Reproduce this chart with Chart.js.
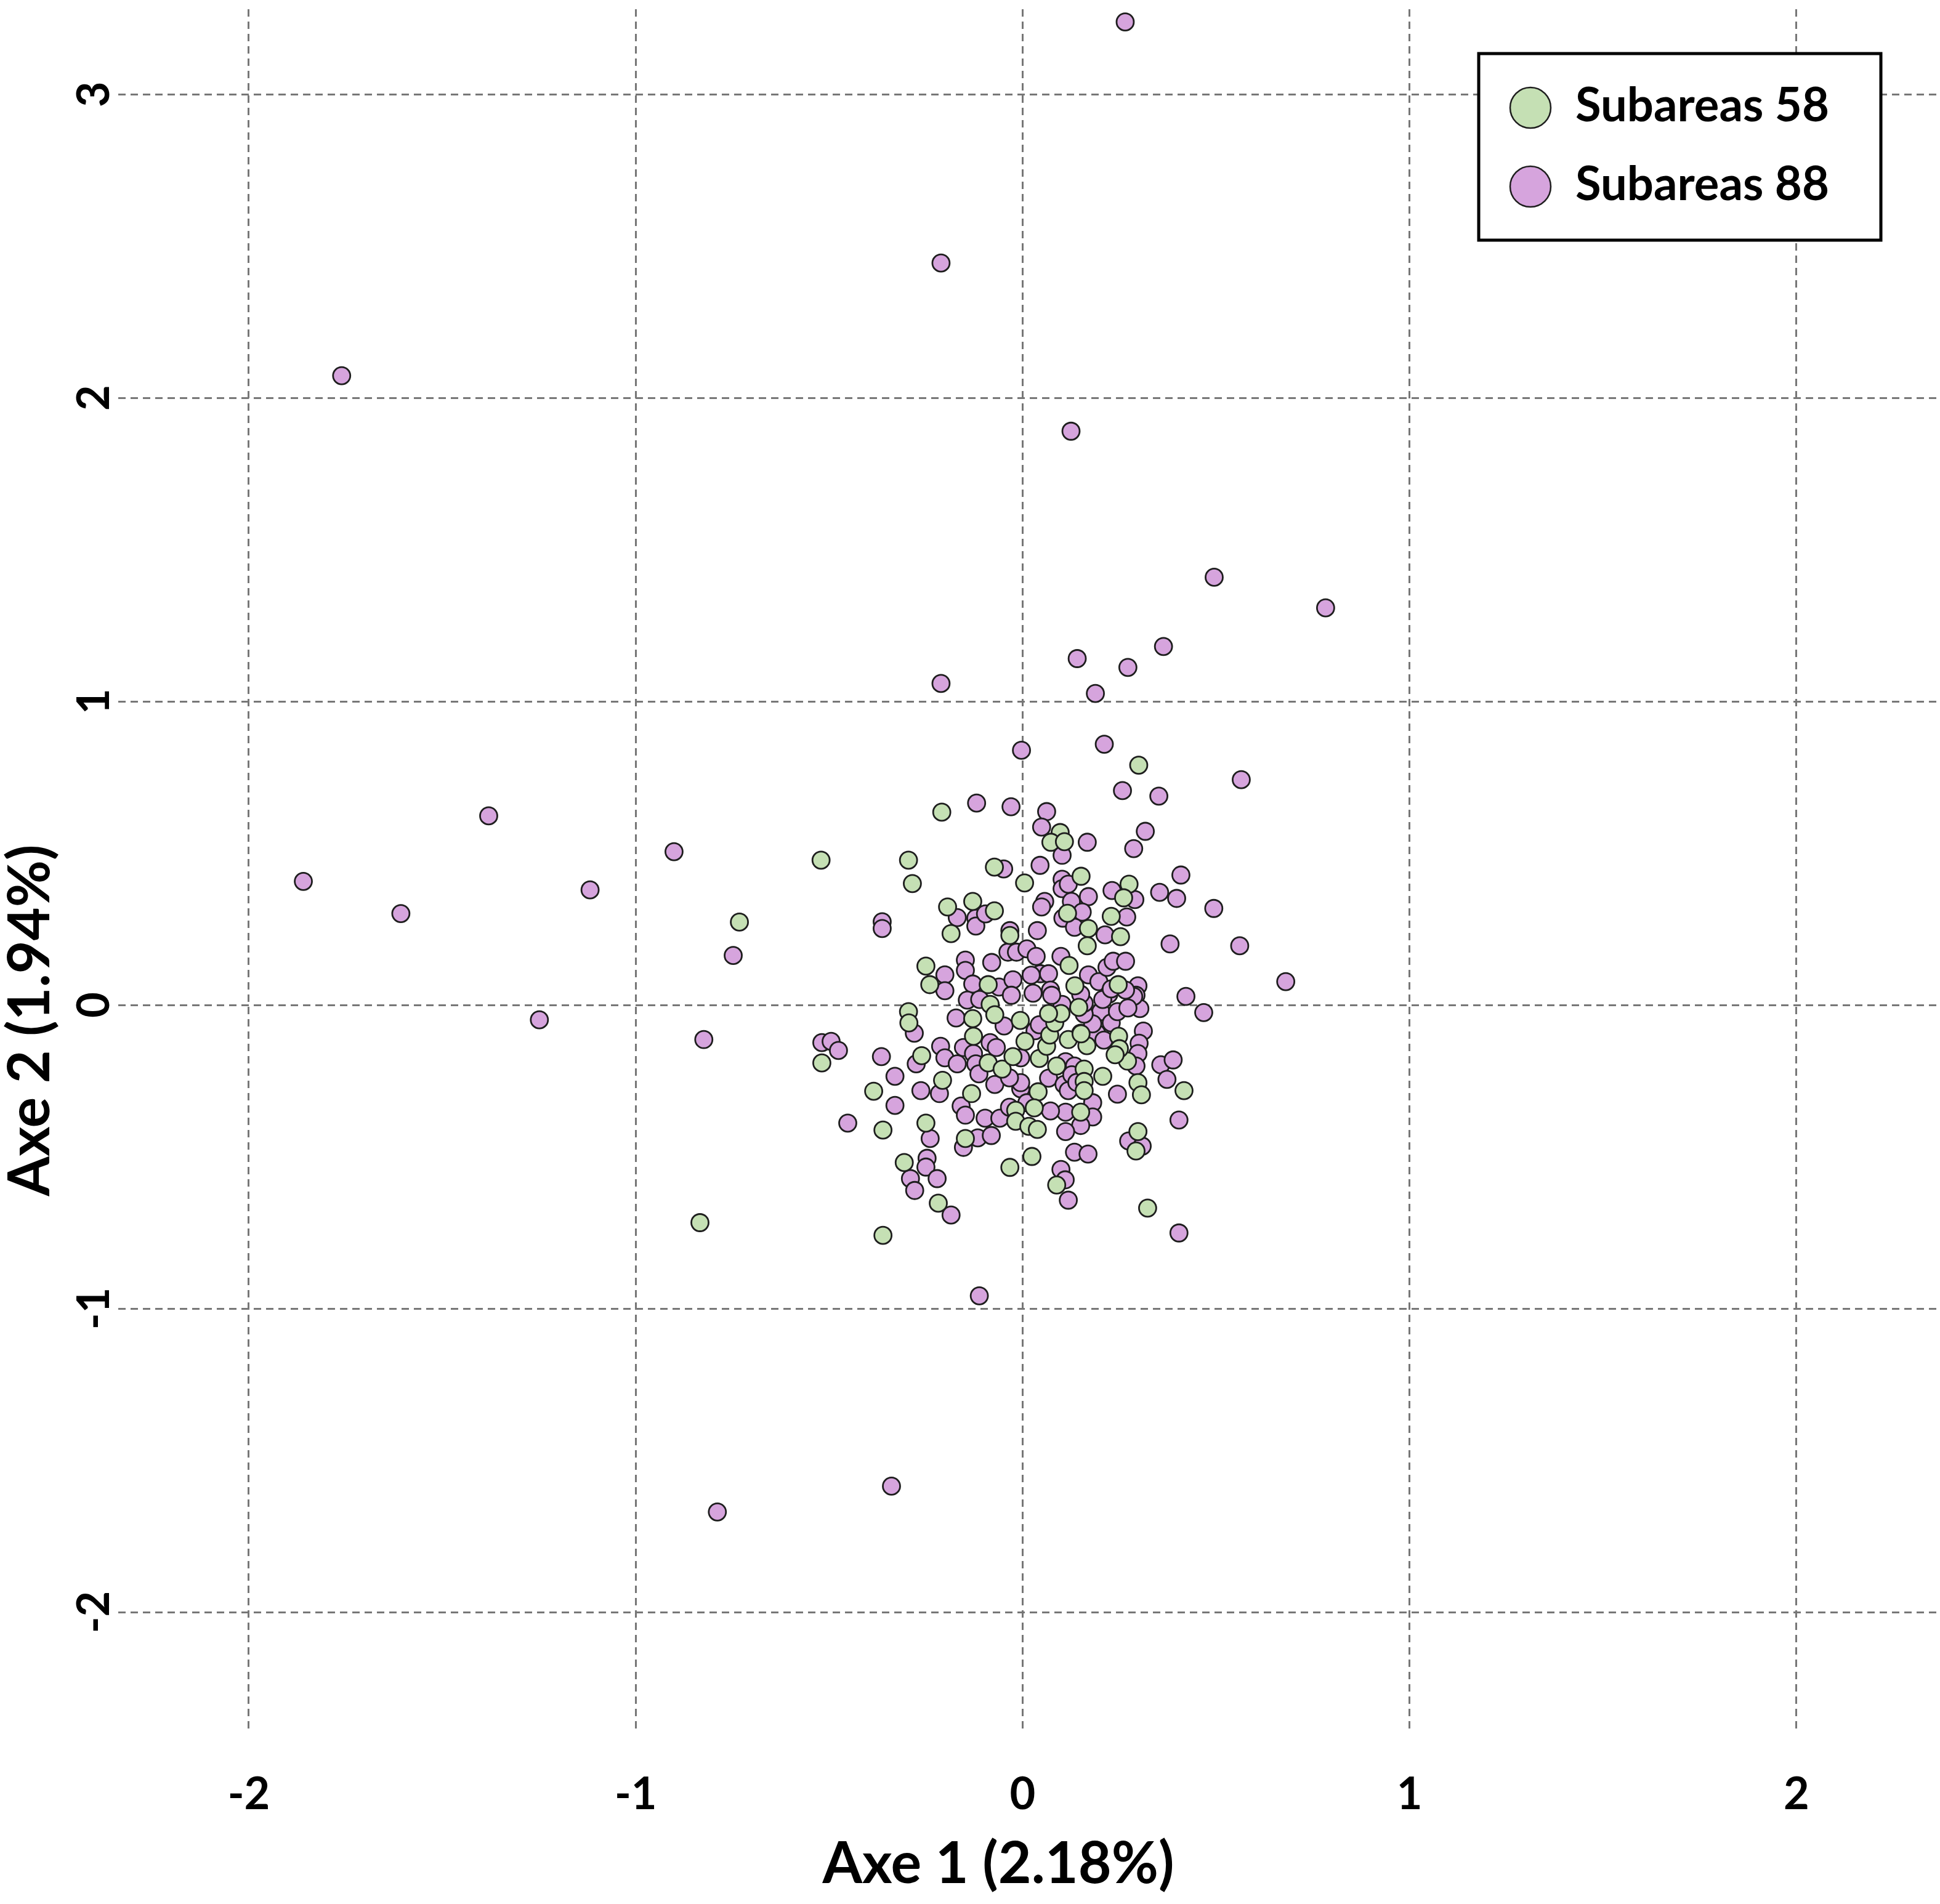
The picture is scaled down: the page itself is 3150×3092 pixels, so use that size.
<!DOCTYPE html>
<html>
<head>
<meta charset="utf-8">
<script src="https://cdn.jsdelivr.net/npm/chart.js@4.4.1/dist/chart.umd.min.js"></script>
<style>
  html, body { margin: 0; padding: 0; background: #ffffff; overflow: hidden; }
  #wrap { width: 3150px; height: 3092px; position: relative; }
  #pca { display: block; }
</style>
</head>
<body>
<div id="wrap"><canvas id="pca"></canvas></div>
<script>
// Axis labels and ticks
const xTitle = 'Axe 1 (2.18%)';
const yTitle = 'Axe 2 (1.94%)';
const xTicks = [-2, -1, 0, 1, 2];
const yTicks = [-2, -1, 0, 1, 2, 3];
const seriesLabels = ['Subareas 58', 'Subareas 88'];
const seriesColors = ['#c5e0b4', '#d6a4dd'];

// Subareas 58 (green) - [axe1, axe2]
const sub58Points = [
  [-0.209,0.635],[-0.295,0.477],[-0.285,0.400],[-0.073,0.454],[0.005,0.402],[0.097,0.568],[0.073,0.536],
  [0.108,0.538],[0.151,0.424],[0.275,0.398],[0.261,0.353],[0.116,0.302],[0.170,0.252],[0.229,0.292],
  [0.253,0.225],[0.167,0.195],[-0.194,0.323],[-0.129,0.341],[-0.073,0.310],[-0.185,0.235],[-0.033,0.229],
  [-0.250,0.128],[-0.240,0.067],[-0.089,0.067],[-0.084,0.002],[-0.295,-0.022],[0.120,0.130],[0.247,0.067],
  [0.135,0.063],[0.300,0.790],[-0.521,0.477],[-0.732,0.273],[-0.834,-0.717],[-0.361,-0.759],
  [-0.519,-0.191],[-0.385,-0.284],[-0.361,-0.412],[-0.294,-0.059],[-0.261,-0.167],[-0.207,-0.248],
  [-0.250,-0.389],[-0.306,-0.519],[-0.129,-0.045],[-0.127,-0.103],[-0.089,-0.191],[-0.053,-0.211],
  [-0.072,-0.032],[-0.006,-0.051],[0.006,-0.120],[-0.025,-0.170],[0.040,-0.286],[0.043,-0.176],
  [-0.132,-0.292],[-0.148,-0.440],[-0.018,-0.347],[-0.018,-0.383],[0.016,-0.400],[0.024,-0.499],
  [-0.033,-0.535],[0.271,-0.185],[0.248,-0.103],[0.250,-0.144],[0.239,-0.164],[0.417,-0.282],
  [0.298,-0.256],[0.307,-0.296],[0.298,-0.417],[0.293,-0.481],[0.207,-0.235],[0.159,-0.211],
  [0.159,-0.252],[0.159,-0.282],[0.150,-0.353],[0.088,-0.593],[0.030,-0.339],[0.038,-0.410],
  [0.088,-0.201],[0.062,-0.136],[0.118,-0.114],[0.166,-0.134],[0.070,-0.099],[0.083,-0.059],
  [0.099,-0.028],[0.067,-0.028],[0.145,-0.008],[-0.218,-0.653],[0.323,-0.669],[0.151,-0.095]
];

// Subareas 88 (purple) - [axe1, axe2]
const sub88Points = [
  [0.265,3.238],[-0.211,2.444],[-1.760,2.073],[0.125,1.890],[0.495,1.409],[0.783,1.308],[0.364,1.181],
  [0.141,1.141],[0.272,1.112],[-0.211,1.059],[0.188,1.026],[0.211,0.859],[-0.003,0.839],[-1.380,0.623],
  [-1.859,0.407],[-1.607,0.301],[-1.249,-0.049],[-1.118,0.379],[-0.901,0.505],[-0.748,0.163],
  [-0.824,-0.114],[-0.339,-1.585],[-0.789,-1.670],[-0.112,-0.958],
  [-0.119,0.665],[-0.030,0.653],[0.062,0.637],[0.049,0.586],[0.102,0.493],[0.167,0.536],[0.258,0.706],
  [-0.049,0.448],[0.045,0.460],[0.102,0.414],[0.102,0.383],[0.118,0.398],[0.170,0.357],[0.231,0.377],
  [0.287,0.515],[0.057,0.341],[0.049,0.323],[0.126,0.341],[0.104,0.286],[0.154,0.306],[0.134,0.256],
  [0.269,0.290],[0.213,0.231],[0.038,0.245],[-0.363,0.274],[-0.363,0.252],[-0.169,0.288],[-0.121,0.286],
  [-0.121,0.260],[-0.096,0.300],[-0.033,0.245],[-0.038,0.174],[-0.016,0.174],[0.011,0.185],[0.035,0.160],
  [0.099,0.160],[0.170,0.099],[0.197,0.077],[0.218,0.124],[0.234,0.144],[0.266,0.144],[-0.201,0.099],
  [-0.201,0.047],[-0.148,0.148],[-0.148,0.114],[-0.080,0.140],[-0.129,0.069],[-0.061,0.059],
  [-0.025,0.083],[-0.029,0.032],[0.027,0.039],[0.046,0.103],[0.067,0.103],[0.072,0.049],[-0.143,0.016],
  [0.565,0.742],[0.352,0.688],[0.317,0.572],[0.409,0.428],[0.354,0.371],[0.398,0.351],[0.494,0.318],
  [0.381,0.201],[0.561,0.195],[0.680,0.077],[0.422,0.028],[0.290,0.347],[0.298,0.063],[0.293,0.032],
  [0.223,0.036],[0.102,0.002],
  [0.468,-0.025],[0.303,-0.012],[0.312,-0.086],[0.301,-0.126],[0.298,-0.160],[0.293,-0.201],[0.357,-0.197],
  [0.389,-0.181],[0.373,-0.245],[0.245,-0.294],[0.404,-0.379],[0.274,-0.448],[0.309,-0.465],[0.181,-0.322],
  [0.181,-0.369],[0.150,-0.397],[0.111,-0.353],[0.072,-0.349],[0.111,-0.417],[0.134,-0.485],[0.169,-0.491],
  [0.099,-0.542],[0.110,-0.576],[-0.005,-0.276],[0.067,-0.241],[0.107,-0.262],[0.118,-0.282],[0.111,-0.187],
  [0.134,-0.201],[0.150,-0.093],[0.191,-0.093],[0.210,-0.116],[0.032,-0.085],[0.043,-0.065],[0.202,-0.022],
  [0.229,-0.059],[0.245,-0.022],[0.181,-0.062],[0.159,-0.030],[0.075,0.032],[0.287,0.028],[0.207,0.018],
  [-0.005,-0.174],[-0.005,-0.256],
  [-0.519,-0.124],[-0.495,-0.120],[-0.476,-0.150],[-0.365,-0.170],[-0.330,-0.235],[-0.330,-0.331],
  [-0.452,-0.389],[-0.280,-0.093],[-0.275,-0.194],[-0.263,-0.282],[-0.215,-0.292],[-0.239,-0.440],
  [-0.247,-0.505],[-0.250,-0.534],[-0.221,-0.572],[-0.290,-0.572],[-0.279,-0.611],[-0.212,-0.136],
  [-0.201,-0.174],[-0.169,-0.194],[-0.153,-0.140],[-0.172,-0.043],[-0.084,-0.124],[-0.127,-0.160],
  [-0.121,-0.194],[-0.113,-0.227],[-0.072,-0.262],[-0.048,-0.069],[-0.159,-0.333],[-0.148,-0.363],
  [-0.097,-0.373],[-0.059,-0.373],[-0.116,-0.438],[-0.081,-0.430],[-0.153,-0.469],
  [-0.185,-0.692],[0.118,-0.643],[0.404,-0.751],
  [0.159,0.006],[0.272,-0.010],[0.127,-0.230],[0.140,-0.255],[0.022,0.098],[0.229,0.053],[0.150,0.035],
  [0.266,0.049],[-0.111,0.018],[-0.068,-0.140],[-0.034,-0.240],[0.011,-0.322],[-0.034,-0.337]
];

const FONT = 'Lato, "Open Sans", sans-serif';

function toXY(points) {
  return points.map(p => ({ x: p[0], y: p[1] }));
}

// boxed legend + axis titles, placed like the original figure
const boxedLegend = {
  id: 'boxedLegend',
  afterDraw(chart) {
    const ctx = chart.ctx;
    const ca = chart.chartArea;
    ctx.save();

    // legend frame
    const bx = ca.right - 749, by = ca.top + 72, bw = 653, bh = 303;
    ctx.fillStyle = '#ffffff';
    ctx.fillRect(bx, by, bw, bh);
    ctx.lineWidth = 5;
    ctx.strokeStyle = '#000000';
    ctx.strokeRect(bx, by, bw, bh);

    chart.data.datasets.forEach((ds, i) => {
      const cy = by + 88 + i * 128;
      ctx.beginPath();
      ctx.arc(bx + 84, cy, 33, 0, Math.PI * 2);
      ctx.fillStyle = ds.backgroundColor;
      ctx.fill();
      ctx.lineWidth = 2.5;
      ctx.strokeStyle = '#1e1e1e';
      ctx.stroke();

      ctx.fillStyle = '#000000';
      ctx.font = 'bold 76px ' + FONT;
      ctx.textAlign = 'left';
      ctx.textBaseline = 'middle';
      ctx.fillText(ds.label, bx + 157, cy - 3);
    });

    // axis titles
    ctx.fillStyle = '#000000';
    ctx.font = 'bold 93px ' + FONT;
    ctx.textAlign = 'center';
    ctx.textBaseline = 'alphabetic';
    ctx.fillText(xTitle, ca.left + 1429, ca.bottom + 243);

    ctx.translate(80, ca.top + 1642);
    ctx.rotate(-Math.PI / 2);
    ctx.fillText(yTitle, 0, 0);
    ctx.restore();
  }
};

const gridStyle = { color: '#777777', lineWidth: 3, drawTicks: false };
const borderStyle = { display: false, dash: [12, 8] };
const tickFont = { family: FONT, size: 72, weight: 'bold' };

new Chart(document.getElementById('pca'), {
  type: 'scatter',
  data: {
    datasets: [
      {
        label: seriesLabels[0],
        data: toXY(sub58Points),
        backgroundColor: seriesColors[0],
        borderColor: '#1e1e1e',
        borderWidth: 2.8,
        pointRadius: 14,
        clip: false
      },
      {
        label: seriesLabels[1],
        data: toXY(sub88Points),
        backgroundColor: seriesColors[1],
        borderColor: '#1e1e1e',
        borderWidth: 2.8,
        pointRadius: 14,
        clip: false
      }
    ]
  },
  options: {
    responsive: true,
    maintainAspectRatio: false,
    animation: false,
    devicePixelRatio: 1,
    layout: { autoPadding: false, padding: { top: 15, right: 0, bottom: 0, left: 0 } },
    plugins: {
      legend: { display: false },
      tooltip: { enabled: false }
    },
    scales: {
      x: {
        type: 'linear',
        min: -2.3374,
        max: 2.3709,
        afterFit: s => { s.height = 277; s.paddingLeft = 0; s.paddingRight = 0; },
        afterBuildTicks: s => { s.ticks = xTicks.map(v => ({ value: v })); },
        grid: gridStyle,
        border: borderStyle,
        ticks: { font: tickFont, color: '#000000', padding: 57, includeBounds: false }
      },
      y: {
        type: 'linear',
        min: -2.3996,
        max: 3.28,
        afterFit: s => { s.width = 192; s.paddingTop = 0; s.paddingBottom = 0; },
        afterBuildTicks: s => { s.ticks = yTicks.map(v => ({ value: v })); },
        grid: gridStyle,
        border: borderStyle,
        ticks: {
          font: tickFont, color: '#000000', padding: 4, includeBounds: false,
          minRotation: 90, maxRotation: 90, crossAlign: 'center'
        }
      }
    }
  },
  plugins: [boxedLegend]
});
</script>
</body>
</html>
